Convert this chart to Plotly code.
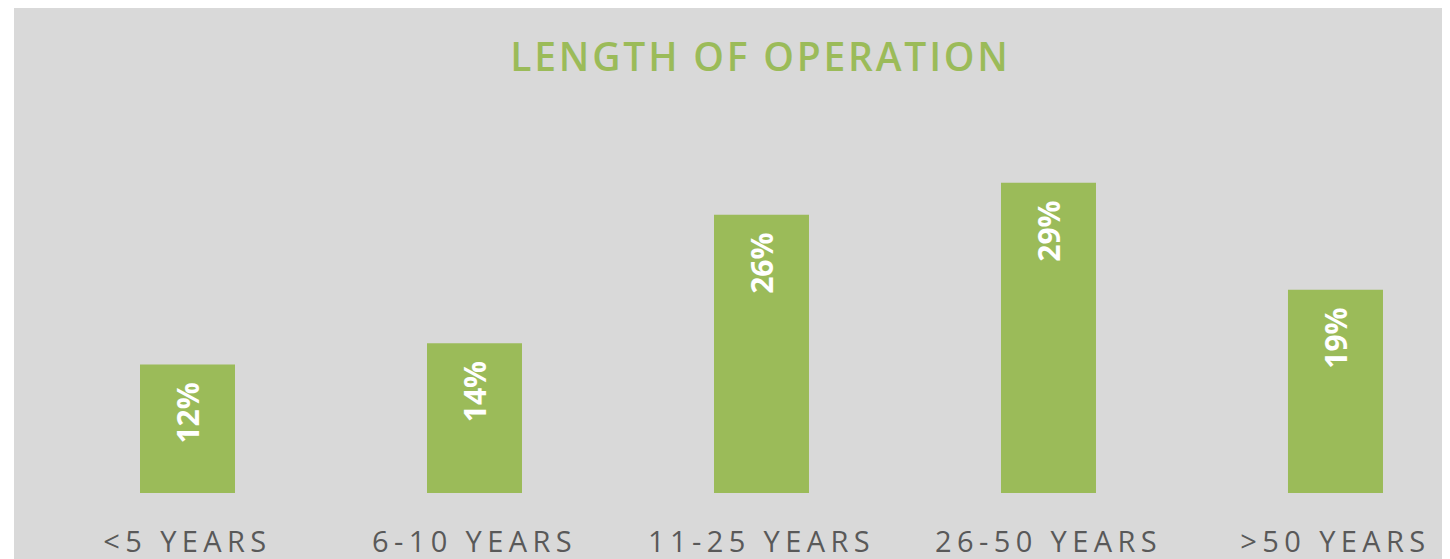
import plotly.graph_objects as go

categories = ["<5 YEARS", "6-10 YEARS", "11-25 YEARS", "26-50 YEARS", ">50 YEARS"]
values = [12, 14, 26, 29, 19]
value_labels = ["12%", "14%", "26%", "29%", "19%"]
title_text = "LENGTH OF OPERATION"

GREEN = "#9bbb59"
BG = "#d9d9d9"
TICK = "#595959"

fig = go.Figure()
fig.add_trace(go.Bar(
    x=list(range(len(categories))), y=values,
    marker=dict(color=GREEN, line=dict(width=0)),
    width=0.331, hoverinfo="skip",
))

for i, (v, lab) in enumerate(zip(values, value_labels)):
    fig.add_annotation(
        x=i, y=v, xref="x", yref="y", text="<b>" + lab + "</b>",
        showarrow=False, textangle=-90, yanchor="top", xanchor="center",
        yshift=-16, font=dict(family="Open Sans", size=30, color="white"),
    )

fig.add_shape(type="rect", xref="paper", yref="paper",
              x0=-0.02134, x1=1.1, y0=-0.4, y1=1.6,
              fillcolor=BG, line=dict(width=0), layer="below")

fig.update_layout(
    width=1442, height=551,
    margin=dict(l=36, r=0, t=164, b=66),
    paper_bgcolor="white", plot_bgcolor=BG,
    showlegend=False,
    title=dict(
        text='<span style="letter-spacing:2.8px">' + title_text + '</span>',
        x=0.5096, xref="paper", xanchor="center",
        y=1 - 49 / 551, yref="container", yanchor="middle",
        font=dict(family="Open Sans", size=39, color=GREEN, weight=600),
    ),
    xaxis=dict(
        range=[-0.5, 4.399], tickmode="array",
        tickvals=list(range(len(categories))),
        ticktext=['<span style="letter-spacing:5.4px">' + c + '</span>' for c in categories],
        showgrid=False, zeroline=False, showline=False, ticks="",
        tickfont=dict(family="Open Sans", size=29, color=TICK),
        ticklabelstandoff=29, fixedrange=True,
    ),
    yaxis=dict(range=[0, 30], visible=False, fixedrange=True),
)

fig.write_html("out.html")
